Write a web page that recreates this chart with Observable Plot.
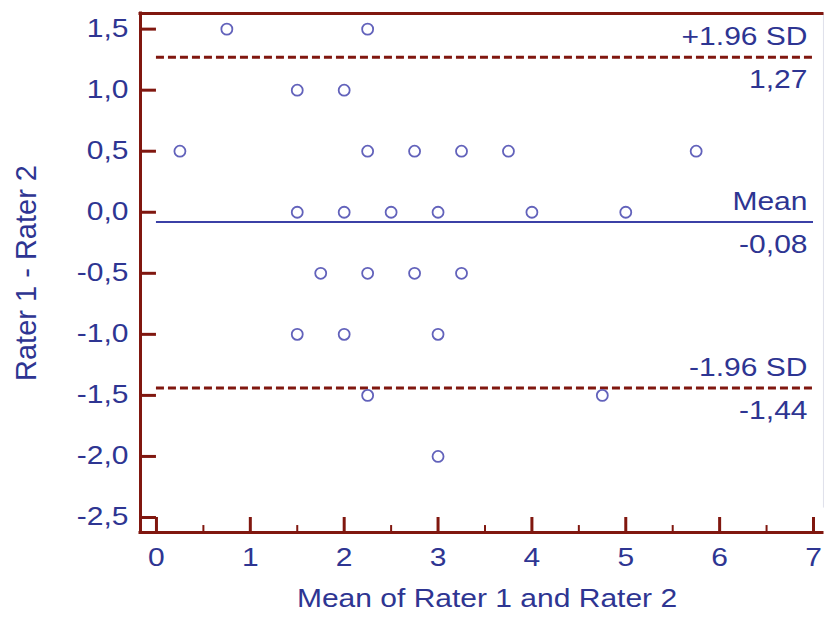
<!DOCTYPE html>
<html><head><meta charset="utf-8">
<script src="https://cdn.jsdelivr.net/npm/d3@7"></script>
<script src="https://cdn.jsdelivr.net/npm/@observablehq/plot@0.6"></script>
<style>body{margin:0;background:#fff}</style>
</head><body><div id="chart"></div>
<script>
// Data
const meanValues = [0.75, 2.25, 1.5, 2.0, 0.25, 2.25, 2.75, 3.25, 3.75, 5.75, 1.5, 2.0, 2.5, 3.0, 4.0, 5.0, 1.75, 2.25, 2.75, 3.25, 1.5, 2.0, 3.0, 2.25, 4.75, 3.0];
const diffValues = [1.5, 1.5, 1.0, 1.0, 0.5, 0.5, 0.5, 0.5, 0.5, 0.5, 0, 0, 0, 0, 0, 0, -0.5, -0.5, -0.5, -0.5, -1.0, -1.0, -1.0, -1.5, -1.5, -2.0];
const refNames = ["+1.96 SD", "Mean", "-1.96 SD"];
const refValues = [1.27, -0.08, -1.44];
const xTicks = [0, 1, 2, 3, 4, 5, 6, 7];
const xMinorTicks = [0.5, 1.5, 2.5, 3.5, 4.5, 5.5, 6.5];
const yTicks = [-2.5, -2.0, -1.5, -1.0, -0.5, 0.0, 0.5, 1.0, 1.5];
const xTitle = "Mean of Rater 1 and Rater 2";
const yTitle = "Rater 1 - Rater 2";

const points = meanValues.map((m, i) => ({m, d: diffValues[i]}));
const xDomain = [-0.17, 7];
const yDomain = [-2.623, 1.628];
const xExt = 7.096;
const axisColor = "#80170f";
const textColor = "#2e3592";
const dotColor = "#6262bb";
const meanColor = "#3b40a6";
const comma = d => d.toFixed(2).replace(/0$/, "").replace(".", ",");
const fmtY = d => d.toFixed(1).replace(".", ",");
const fmtRef = d => d.toFixed(2).replace(".", ",");

const chart = Plot.plot({
  width: 824, height: 623,
  marginLeft: 140, marginRight: 11, marginTop: 13, marginBottom: 91,
  style: {fontFamily: "'Liberation Sans', Arial, sans-serif", fontSize: "25px", color: textColor, background: "#fff"},
  x: {domain: xDomain},
  y: {domain: yDomain},
  marks: [
    Plot.axisX(xTicks, {tickSize: 0, tickPadding: 16, label: null, tickFormat: d => String(d), fontSize: 25}),
    Plot.axisY(yTicks, {tickSize: 0, tickPadding: 12, label: null, tickFormat: fmtY, fontSize: 25}),
    // faint right edge
    Plot.ruleX([xExt + 0.01], {y1: yDomain[0] + 0.2, y2: yDomain[1], stroke: "#dfe0ea", strokeWidth: 1}),
    // reference lines
    Plot.ruleY([refValues[0], refValues[2]], {x1: 0, x2: 7, stroke: axisColor, strokeWidth: 3, strokeDasharray: "8,4"}),
    Plot.ruleY([refValues[1]], {x1: 0, x2: 7, stroke: meanColor, strokeWidth: 2}),
    Plot.text(refValues, {x: 7, y: d => d, text: (d, i) => refNames[i], textAnchor: "end", lineAnchor: "middle", dx: -6, dy: -20, fill: textColor, fontSize: 25}),
    Plot.text(refValues, {x: 7, y: d => d, text: d => fmtRef(d), textAnchor: "end", lineAnchor: "middle", dx: -6, dy: 23, fill: textColor, fontSize: 25}),
    // data
    Plot.dot(points, {x: "m", y: "d", r: 5.5, stroke: dotColor, strokeWidth: 1.8, fill: "none"}),
    // axis frame
    Plot.ruleX([xDomain[0]], {y1: yDomain[0], y2: yDomain[1], stroke: axisColor, strokeWidth: 3, strokeLinecap: "square"}),
    Plot.ruleY([yDomain[0]], {x1: xDomain[0], x2: xExt, stroke: axisColor, strokeWidth: 3, strokeLinecap: "square"}),
    Plot.ruleY([yDomain[1]], {x1: xDomain[0], x2: xExt, stroke: axisColor, strokeWidth: 3, strokeLinecap: "square"}),
    // ticks (inward)
    Plot.ruleY(yTicks, {y: d => d, x1: xDomain[0], x2: 0, stroke: axisColor, strokeWidth: 3}),
    Plot.ruleX(xTicks, {x: d => d, y1: yDomain[0], y2: -2.5, stroke: axisColor, strokeWidth: 3}),
    Plot.ruleX(xMinorTicks, {x: d => d, y1: yDomain[0], y2: yDomain[0] + 0.057, stroke: axisColor, strokeWidth: 2}),
    // titles
    Plot.text([xTitle], {frameAnchor: "bottom", textAnchor: "middle", lineAnchor: "middle", dx: 10, dy: 66, fill: textColor, fontSize: 25}),
    Plot.text([yTitle], {frameAnchor: "left", textAnchor: "middle", lineAnchor: "middle", rotate: -90, dx: -114, fill: textColor, fontSize: 29})
  ]
});

// the reference text is drawn horizontally wider; stretch horizontal texts
chart.querySelectorAll("text").forEach(t => {
  const tr = t.getAttribute("transform") || "";
  if (tr.includes("rotate")) return;
  if (tr) t.setAttribute("transform", tr + " scale(1.2,1)");
  else {
    const x = +t.getAttribute("x") || 0, y = +t.getAttribute("y") || 0;
    t.removeAttribute("x"); t.removeAttribute("y");
    t.setAttribute("transform", `translate(${x},${y}) scale(1.2,1)`);
  }
});
document.getElementById("chart").appendChild(chart);
</script></body></html>
